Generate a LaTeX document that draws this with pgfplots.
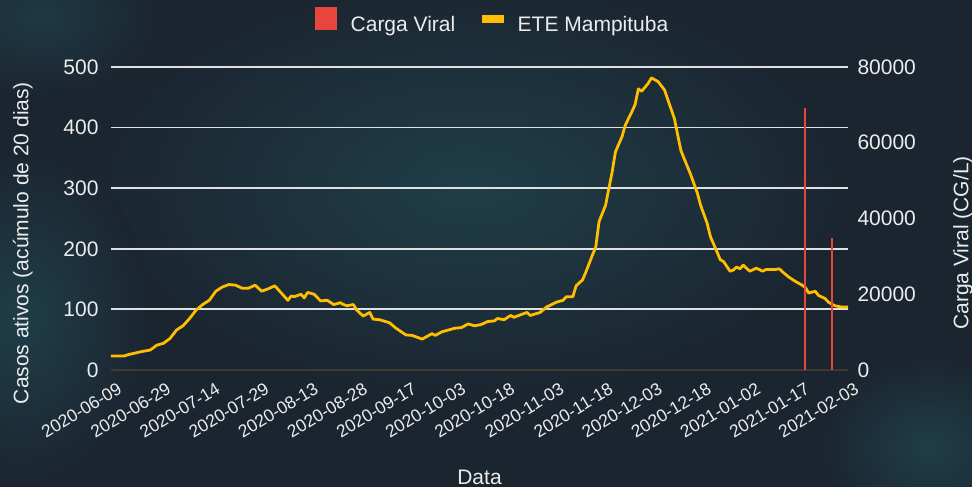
\documentclass[border=0pt]{standalone}
\usepackage{pgfplots}
\usepackage{pgfplotstable}
\pgfplotsset{compat=1.18}
\usepackage{fontspec}
\setmainfont{Liberation Sans}

\definecolor{bgdark}{RGB}{27,37,48}
\definecolor{bgteal}{RGB}{31,62,72}
\definecolor{lineyellow}{RGB}{255,190,0}
\definecolor{barred}{RGB}{232,69,60}
\definecolor{gridwhite}{RGB}{222,224,226}
\definecolor{txt}{RGB}{236,236,236}
\definecolor{axisgray}{RGB}{62,58,54}

% casos ativos (acumulo de 20 dias), x = posicao da amostra
\pgfplotstableread{
x y
0 23
4 23
5 25
9 30
12 33
14 41
16 44
18 52
20 66
22 73
24 85
26 99
28 108
30 115
32 130
34 137
36 141
38 140
40 135
42 135
44 140
46 130
48 134
50 139
52 127
54 115
55 122
56 121
58 125
59 119
60 128
62 125
64 114
66 115
68 108
70 111
71 108
72 106
74 108
75 99
77 89
79 95
80 84
82 83
85 78
87 69
90 58
92 57
95 51
98 60
99 57
101 63
103 66
105 69
107 70
109 76
111 73
113 75
115 80
117 81
118 85
120 83
122 90
123 87
125 91
127 95
128 90
131 95
133 104
136 112
138 115
139 121
141 121
142 139
144 149
145 162
147 190
148 203
149 245
151 272
152 300
153 327
154 360
156 385
157 404
159 426
160 438
161 464
162 460
164 473
165 482
167 476
169 462
170 446
172 415
173 388
174 362
177 322
179 292
180 272
182 242
183 220
185 195
186 182
187 179
189 163
190 165
191 170
192 167
193 173
195 163
197 168
199 163
200 166
203 166
204 167
205 162
207 153
209 146
211 140
212 136
213 127
215 130
216 123
218 118
219 112
221 106
223 104
225 104
}\ete

\pgfplotstableread{
x cv
212 69250
220 34770
}\carga

\pgfplotsset{
  base/.style={
    at={(111pt,117pt)}, anchor=south west,
    scale only axis, width=737pt, height=303pt,
    xmin=0, xmax=225,
    major tick length=0pt,
    font=\fontsize{21}{25}\selectfont,
    tick label style={text=txt},
    label style={text=txt},
    /pgf/number format/assume math mode=true,
  },
}

\begin{document}
\begin{tikzpicture}[x=1pt,y=1pt]
\path[use as bounding box] (0,0) rectangle (972,487);
\begin{scope}
\clip (0,0) rectangle (972,487);
\fill[bgdark] (0,0) rectangle (972,487);
\shade[inner color=bgteal, outer color=bgdark] (470,300) ellipse (380 and 210);
\shade[inner color=bgteal, outer color=bgdark] (20,170) ellipse (130 and 170);
\shade[inner color=bgteal!80!bgdark, outer color=bgdark] (40,470) ellipse (120 and 80);
\shade[inner color=bgteal, outer color=bgdark] (930,40) ellipse (110 and 90);
\end{scope}

\begin{axis}[
  base,
  ymin=0, ymax=500,
  axis x line*=bottom, axis y line*=left,
  y axis line style={draw=none},
  x axis line style={draw=axisgray, line width=1.8pt},
  ytick={100,200,300,400,500},
  extra y ticks={0}, extra y tick style={grid=none},
  ymajorgrids, grid style={gridwhite, line width=1.8pt},
  yticklabel style={xshift=-9pt},
  xtick={0,15,...,225},
  xticklabels={2020-06-09,2020-06-29,2020-07-14,2020-07-29,2020-08-13,2020-08-28,2020-09-17,2020-10-03,2020-10-18,2020-11-03,2020-11-18,2020-12-03,2020-12-18,2021-01-02,2021-01-17,2021-02-03},
  xticklabel style={rotate=31, anchor=north east, font=\fontsize{17.5}{20}\selectfont, xshift=2pt, yshift=-10pt},
  xlabel={Data},
  xlabel style={at={(axis description cs:0.5,-0.356)}, anchor=center},
  ylabel={Casos ativos (acúmulo de 20 dias)},
  ylabel style={at={(axis description cs:-0.1195,0.419)}, anchor=center, rotate=0},
]
\addplot[lineyellow, line width=2.8pt, line join=round] table[x=x, y=y] {\ete};
\end{axis}

\begin{axis}[
  base,
  ymin=0, ymax=80000,
  axis x line=none, axis y line*=right,
  y axis line style={draw=none},
  ytick={0,20000,40000,60000,80000},
  scaled y ticks=false,
  yticklabel style={/pgf/number format/fixed, /pgf/number format/1000 sep={}, xshift=6pt},
  ylabel={Carga Viral (CG/L)},
  ylabel style={at={(axis description cs:1.156,0.419)}, anchor=center, rotate=0},
  legend columns=-1,
  legend style={at={(axis description cs:0.5176,1.152)}, anchor=center, draw=none, fill=none,
    text=txt, font=\fontsize{21}{25}\selectfont,
    /tikz/every odd column/.append style={column sep=12pt},
    /tikz/every even column/.append style={column sep=25pt}},
]
\addplot[ycomb, color=barred, draw=barred, line width=2pt, mark=none,
  legend image code/.code={\fill[barred] (0pt,-5pt) rectangle (20pt,16pt);}]
  table[x=x, y=cv] {\carga};
\addlegendentry{Carga Viral}
\addlegendimage{legend image code/.code={\fill[lineyellow] (0pt,2.5pt) rectangle (21pt,9.5pt);}}
\addlegendentry{ETE Mampituba}
\end{axis}
\end{tikzpicture}
\end{document}
